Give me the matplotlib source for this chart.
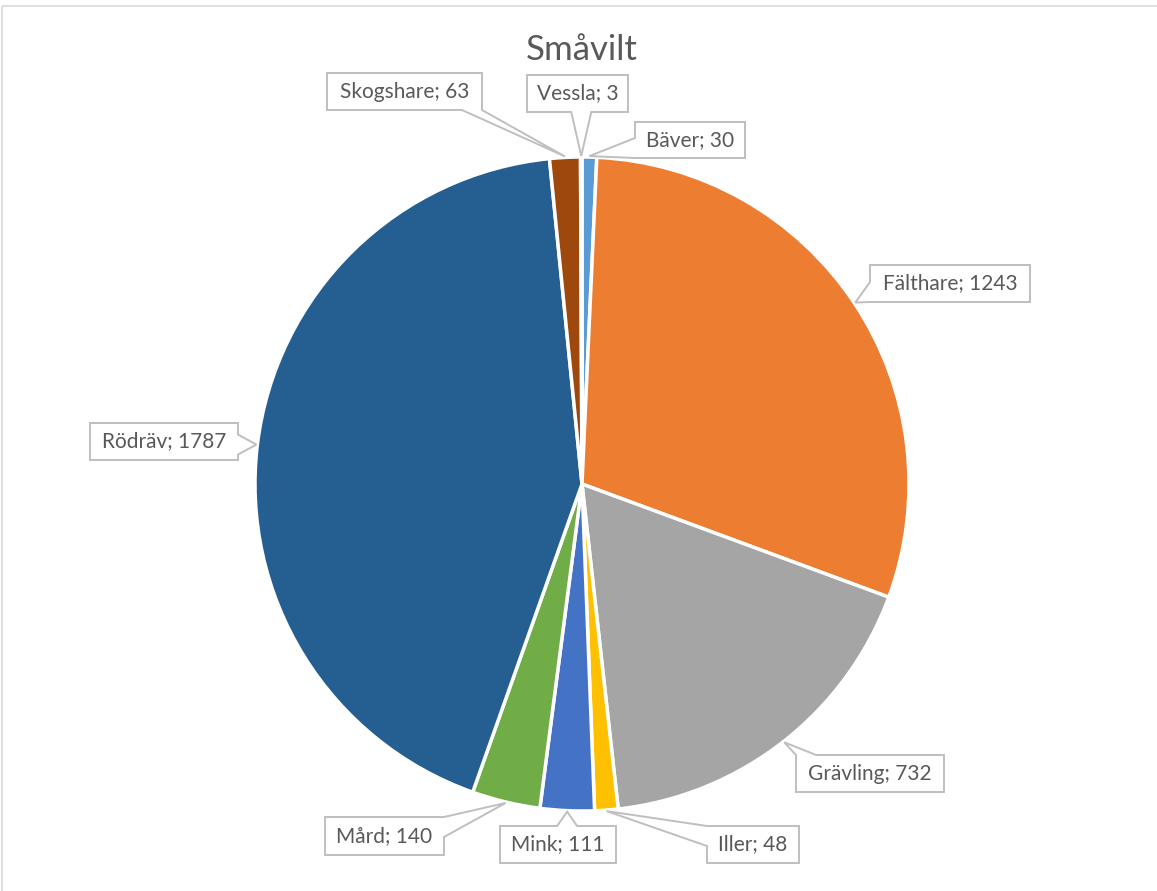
import matplotlib.pyplot as plt
import numpy as np
from matplotlib.patches import Polygon, Rectangle

# Data (clockwise from 12 o'clock)
names = ['Bäver', 'Fälthare', 'Grävling', 'Iller', 'Mink', 'Mård', 'Rödräv', 'Skogshare', 'Vessla']
values = [30, 1243, 732, 48, 111, 140, 1787, 63, 3]
colors = ['#5B9BD5', '#ED7D31', '#A5A5A5', '#FFC000', '#4472C4', '#70AD47', '#255E91', '#9E480E', '#636363']

# Label boxes in pixel coords: x0, y0, x1, y1, side where the pointer leaves the box
boxes = {
    'Bäver': (635, 122, 745, 158, 'left'),
    'Fälthare': (870, 265, 1030, 302, 'left'),
    'Grävling': (796, 755, 944, 792, 'top'),
    'Iller': (707, 826, 799, 863, 'left'),
    'Mink': (500, 826, 616, 863, 'top'),
    'Mård': (325, 817, 444, 855, 'right'),
    'Rödräv': (90, 423, 238, 460, 'right'),
    'Skogshare': (327, 73, 482, 110, 'bottom'),
    'Vessla': (527, 75, 628, 112, 'bottom'),
}

W, H = 1157, 891
CX, CY, R = 582, 484, 327
TXT = '#595959'
EDGE = '#BFBFBF'
plt.rcParams['font.family'] = ['Lato', 'DejaVu Sans']

fig = plt.figure(figsize=(W / 100, H / 100), dpi=100)
ax = fig.add_axes([0, 0, 1, 1])

# y axis inverted -> counterclock in data is clockwise on screen
wedges, _ = ax.pie(values, colors=colors, center=(CX, CY), radius=R,
                   startangle=-90, counterclock=True,
                   wedgeprops=dict(edgecolor='white', linewidth=2.5))
ax.set_xlim(0, W)
ax.set_ylim(H, 0)
ax.set_aspect('auto')
ax.axis('off')

# chart border
ax.add_patch(Rectangle((2, 6), W + 10, H + 10, fill=False, edgecolor='#D9D9D9', lw=1.2, zorder=0))

ax.text(CX, 50, 'Småvilt', ha='center', va='center', fontsize=25, color=TXT)


def callout(x0, y0, x1, y1, side, tip, hw=10):
    tx, ty = tip
    if side in ('top', 'bottom'):
        c = min(max(tx, x0 + hw), x1 - hw)
    else:
        c = min(max(ty, y0 + hw), y1 - hw)
    b0, b1 = c - hw, c + hw
    pts = [(x0, y0)]
    if side == 'top':
        pts += [(b0, y0), tip, (b1, y0)]
    pts.append((x1, y0))
    if side == 'right':
        pts += [(x1, b0), tip, (x1, b1)]
    pts.append((x1, y1))
    if side == 'bottom':
        pts += [(b1, y1), tip, (b0, y1)]
    pts.append((x0, y1))
    if side == 'left':
        pts += [(x0, b1), tip, (x0, b0)]
    ax.add_patch(Polygon(pts, closed=True, facecolor='white', edgecolor=EDGE, lw=1.4, zorder=5))


for w, name, val in zip(wedges, names, values):
    mid = np.deg2rad((w.theta1 + w.theta2) / 2)
    tip = (CX + (R + 1) * np.cos(mid), CY + (R + 1) * np.sin(mid))
    x0, y0, x1, y1, side = boxes[name]
    callout(x0, y0, x1, y1, side, tip)
    ax.text((x0 + x1) / 2, (y0 + y1) / 2, f'{name}; {val}', ha='center', va='center',
            fontsize=15, color=TXT, zorder=6)

fig.savefig('out.png', dpi=100)
